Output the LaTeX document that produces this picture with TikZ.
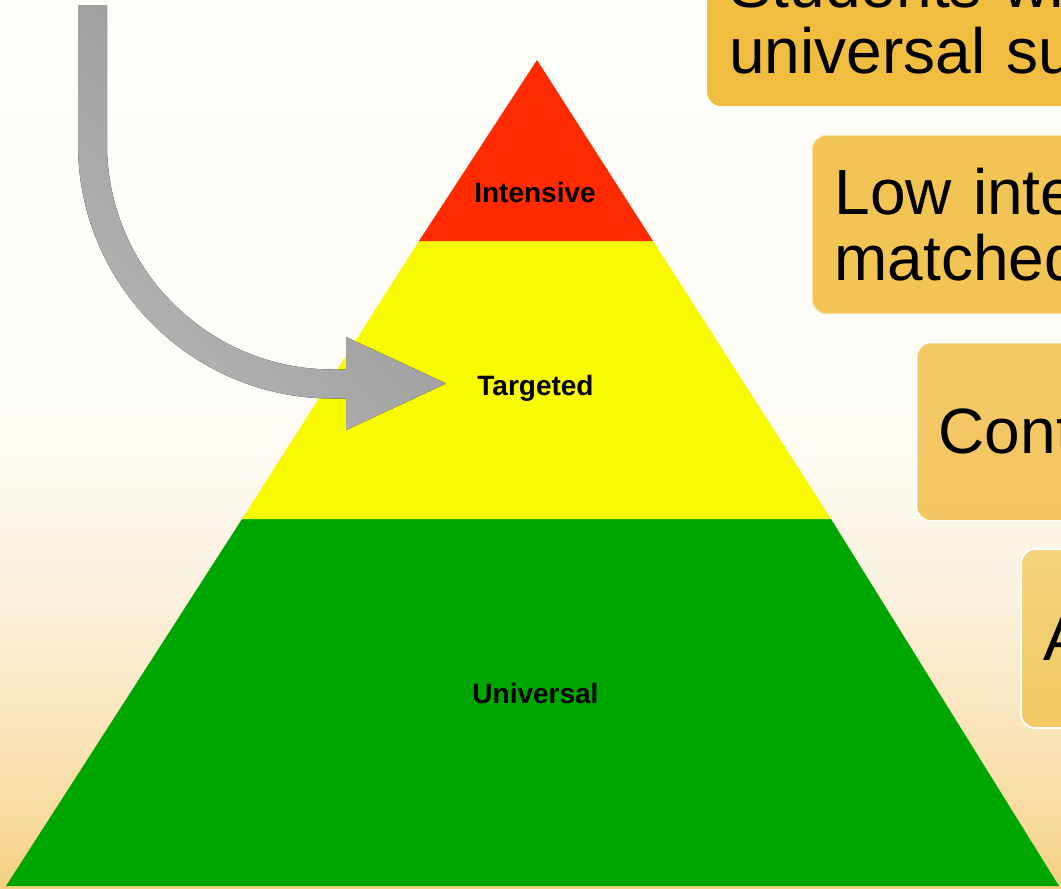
\documentclass[tikz,border=0pt]{standalone}
\usepackage{fontspec}
\setmainfont{Liberation Sans}
\usetikzlibrary{arrows.meta}
\definecolor{bgA}{HTML}{FDFDFA}
\definecolor{bgB}{HTML}{FDFBF4}
\definecolor{bgC}{HTML}{FBF1DD}
\definecolor{bgD}{HTML}{FAE7C3}
\definecolor{bgE}{HTML}{F8DDA6}
\definecolor{bgF}{HTML}{F5D081}
\definecolor{redtier}{HTML}{FF2A00}
\definecolor{yellowtier}{HTML}{F9F900}
\definecolor{greentier}{HTML}{00A600}
\definecolor{arrowDark}{HTML}{929292}
\definecolor{arrowLight}{HTML}{B4B4B4}
\definecolor{boxA}{HTML}{F0BD40}
\definecolor{boxB}{HTML}{F2C453}
\definecolor{boxC}{HTML}{F3CA67}
\definecolor{boxDtop}{HTML}{F4D37D}
\definecolor{boxDbot}{HTML}{F2C862}
\pgfdeclareverticalshading{bgshade}{100bp}{color(0bp)=(bgF); color(25bp)=(bgF); color(30bp)=(bgE); color(35.6bp)=(bgD); color(41.3bp)=(bgC); color(49.7bp)=(bgB); color(75bp)=(bgA); color(100bp)=(bgA)}
\tikzset{
  tierlabel/.style={font=\fontsize{28}{30}\selectfont\bfseries, text=black, inner sep=0pt, anchor=base},
  infobox/.style={rounded corners=14pt, text width=450pt, align=left, inner xsep=22pt, inner ysep=0pt,
    anchor=north west, minimum height=178pt, font=\fontsize{64}{66}\selectfont, text=black},
}
\begin{document}
\begin{tikzpicture}[x=1pt,y=-1pt]
\useasboundingbox (0,0) rectangle (1061,889);
\clip (0,0) rectangle (1061,889);
% background
\fill[shading=bgshade] (0,0) rectangle (1061,889);

% pyramid
\coordinate (apex) at (537,60);
\coordinate (rl) at (419,241);
\coordinate (rr) at (653,241);
\coordinate (yl) at (242,519);
\coordinate (yr) at (831,519);
\coordinate (gl) at (6,886);
\coordinate (gr) at (1059,886);
\fill[greentier] (yl) -- (yr) -- (gr) -- (gl) -- cycle;
\fill[yellowtier] (rl) -- (rr) -- (yr) -- (yl) -- cycle;
\fill[redtier] (apex) -- (rr) -- (rl) -- cycle;

\node[tierlabel] (intensive) at (535,202) {Intensive};
\node[tierlabel] (targeted) at (535.5,395) {Targeted};
\node[tierlabel] (universal) at (535.5,703) {Universal};

% curved arrow
\coordinate (aOutTop) at (78,5);
\coordinate (aInTop) at (107,5);
\coordinate (tip) at (446,383.5);
\fill[left color=arrowLight, right color=arrowDark, shading angle=135]
  (aOutTop) -- (78,144) .. controls (78,284.6) and (191.9,398.5) .. (332.5,398.5)
  -- (346,398.5) -- (346,430) -- (tip) -- (346,337) -- (346,369.5) -- (332.5,369.5)
  .. controls (208,369.5) and (107,268.5) .. (107,144) -- (aInTop) -- cycle;

% boxes
\node[infobox, fill=boxA] (box1) at (707,-72) {Students wh\\universal su};
\node[infobox, fill=boxB, draw=white!45!boxB, line width=1pt] (box2) at (812,135) {Low inte\\matched};
\node[infobox, top color=boxC, bottom color=boxC!95!orange, draw=white, line width=1.3pt] (box3) at (916,342) {Cont};
\node[infobox, top color=boxDtop, bottom color=boxDbot, draw=white, line width=2pt, minimum height=179pt] (box4) at (1020,548) {A};
\end{tikzpicture}
\end{document}
